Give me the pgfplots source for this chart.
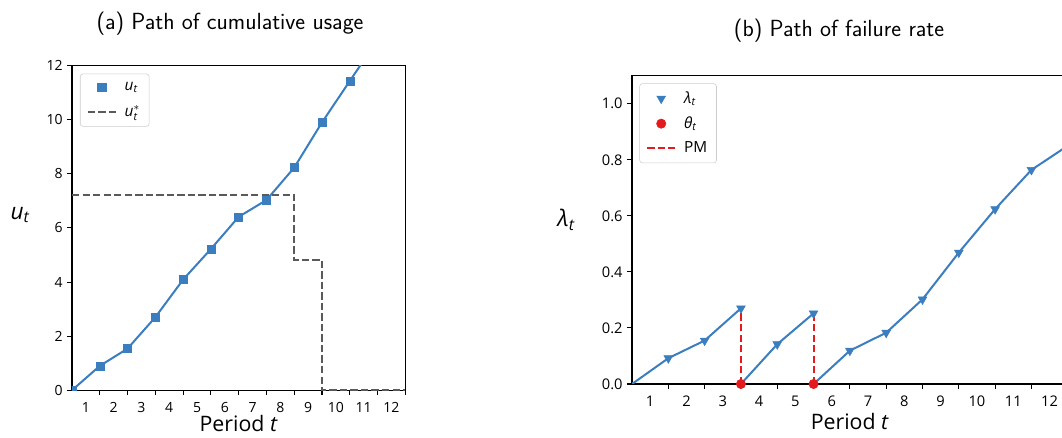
\documentclass[border=0pt]{standalone}
\usepackage{amsmath}
\usepackage{fontspec}
\setmainfont{Open Sans}
\usepackage{pgfplots}
\pgfplotsset{compat=1.18}
\definecolor{cblue}{HTML}{3A7EBF}
\definecolor{cred}{HTML}{E41A1C}
\definecolor{cgray}{HTML}{5A5A5A}
\newcommand{\vt}[1]{\ensuremath{\textit{#1}_{\textit{t}}}}
\pgfplotsset{
  linelegend/.style={legend image code/.code={\draw[##1] (0pt,0pt) -- (21pt,0pt);}},
  marklegend/.style={legend image code/.code={\draw[##1, only marks] plot coordinates {(10.5pt,0pt)};}},
}
\begin{document}
\begin{tikzpicture}
\pgfplotsset{
  common/.style={
    scale only axis,
    axis line style={line width=0.8pt},
    tick align=outside,
    tick pos=left,
    major tick length=3.5pt,
    tick style={black, line width=0.8pt},
    xmin=0, xmax=12,
    xtick={1,2,3,4,5,6,7,8,9,10,11,12},
    xticklabels={1,2,3,4,5,6,7,8,9,10,11,12},
    /pgf/number format/assume math mode=true,
    tick label style={font=\fontsize{10.5}{12}\selectfont},
    xticklabel style={yshift=-2pt},
    xlabel={Period \textit{t}},
    every axis x label/.style={at={(axis description cs:0.5,0)}, anchor=base, font=\fontsize{16}{19}\selectfont},
    legend cell align=left,
    legend style={anchor=north west, draw=black!20, rounded corners=2pt, fill=white,
      font=\fontsize{11.5}{13}\selectfont, inner xsep=5pt, inner ysep=4pt, column sep=4pt},
  }
}
% ---------------- (a) ----------------
\begin{axis}[common,
  at={(0pt,0pt)}, anchor=south west,
  width=250pt, height=243.5pt,
  ymin=0, ymax=12, ytick={0,2,4,6,8,10,12},
  xticklabel style={xshift=-10.4pt},
  every axis x label/.append style={yshift=-31pt},
  ylabel={\vt{u}},
  every axis y label/.style={at={(axis description cs:-0.156,0.54)}, anchor=center, font=\fontsize{17}{20}\selectfont},
  clip marker paths=true,
  legend style={at={(0.024,0.975)}, row sep=6pt},
]
\addplot[cblue, line width=1.5pt, forget plot] coordinates {
  (0,0) (1,0.90) (2,1.54) (3,2.70) (4,4.09) (5,5.22) (6,6.41) (7,7.03)
  (8,8.23) (9,9.90) (10,11.43) (11,12.95) (12,14.40)};
\addplot[cgray, line width=1.3pt, dash pattern=on 5.5pt off 2.4pt, forget plot] coordinates {
  (0,7.23) (8,7.23) (8,4.82) (9,4.82) (9,0) (12,0)};
\addplot[only marks, mark=square*, mark size=3pt, cblue, forget plot] coordinates {
  (0,0) (1,0.90) (2,1.54) (3,2.70) (4,4.09) (5,5.22) (6,6.41) (7,7.03)
  (8,8.23) (9,9.90) (10,11.43)};
\addlegendimage{marklegend, mark=square*, mark size=3.2pt, cblue}
\addlegendentry{$\textit{u}_{\textit{t}}$}
\addlegendimage{linelegend, cgray, line width=1.3pt, dash pattern=on 5.5pt off 2.4pt}
\addlegendentry{$\textit{u}_{\textit{t}}^{*}$}
\end{axis}
% ---------------- (b) ----------------
\begin{axis}[common,
  at={(420pt,4.7pt)}, anchor=south west,
  width=326.8pt, height=231.2pt,
  ymin=0, ymax=1.1, ytick={0,0.2,0.4,0.6,0.8,1.0},
  yticklabel style={/pgf/number format/.cd, fixed, fixed zerofill, precision=1},
  tick label style={font=\fontsize{11}{13}\selectfont},
  xticklabel style={xshift=-13.6pt},
  every axis x label/.append style={yshift=-34.5pt},
  ylabel={\vt{λ}},
  every axis y label/.style={at={(axis description cs:-0.151,0.532)}, anchor=center, font=\fontsize{17}{20}\selectfont},
  unbounded coords=jump,
  legend style={at={(0.017,0.975)}, row sep=4.5pt},
]
\addplot[cblue, line width=1.5pt, forget plot] coordinates {
  (0,0) (1,0.092) (2,0.155) (3,0.270) (3,nan)
  (3,0) (4,0.142) (5,0.252) (5,nan)
  (5,0) (6,0.119) (7,0.183) (8,0.302) (9,0.469) (10,0.624) (11,0.764) (12,0.850)};
\addplot[color=cred, line width=1.5pt, dash pattern=on 5.5pt off 2.4pt, forget plot] coordinates {
  (3,0) (3,0.270) (3,nan) (5,0) (5,0.252)};
\addplot[only marks, mark=triangle*, mark size=3.8pt, mark options={rotate=180}, cblue, forget plot] coordinates {
  (1,0.092) (2,0.155) (3,0.270) (4,0.142) (5,0.252) (6,0.119) (7,0.183)
  (8,0.302) (9,0.469) (10,0.624) (11,0.764) (12,0.850)};
\addplot[only marks, mark=*, mark size=3.5pt, cred, forget plot] coordinates {(3,0) (5,0)};
\addlegendimage{marklegend, mark=triangle*, mark size=3.8pt, mark options={rotate=180}, cblue}
\addlegendentry{$\textit{λ}_{\textit{t}}$}
\addlegendimage{marklegend, mark=*, mark size=3.5pt, cred}
\addlegendentry{$\textit{θ}_{\textit{t}}$}
\addlegendimage{linelegend, color=cred, line width=1.3pt, dash pattern=on 5.5pt off 2.4pt}
\addlegendentry{PM}
\end{axis}
% titles
\node[font=\sffamily\fontsize{17.5}{21}\selectfont, anchor=base] at (118.5pt,270.2pt) {(a) Path of cumulative usage};
\node[font=\sffamily\fontsize{17.5}{21}\selectfont, anchor=base] at (575.3pt,265.2pt) {(b) Path of failure rate};
\pgfresetboundingbox
\useasboundingbox (-54pt,-35.7pt) rectangle (742.5pt,292.7pt);
\end{tikzpicture}
\end{document}
